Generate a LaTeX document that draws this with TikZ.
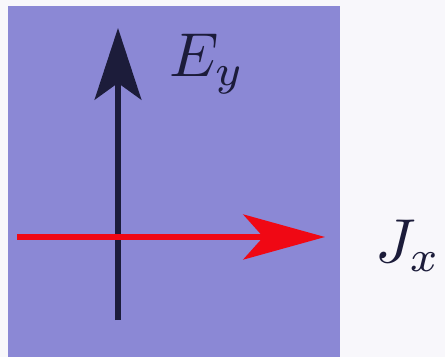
\documentclass[tikz,border=0pt]{standalone}
\usetikzlibrary{arrows.meta}
\definecolor{slab}{RGB}{139,136,213}
\definecolor{paper}{RGB}{248,247,251}
\definecolor{ink}{RGB}{28,28,58}
\definecolor{jred}{RGB}{240,8,20}
\begin{document}
\begin{tikzpicture}[x = 0.03cm, y = -0.03cm,
  lbl/.style = {text = ink, scale = 5.3, transform shape}]

%background and slab
        \fill[paper] (0,0) rectangle (445,357);
        \useasboundingbox (0,0) rectangle (445,357);
        \fill[slab] (8,6) rectangle (340,357);

%mark arrow ends
        \coordinate (Ebot) at (118,320);
        \coordinate (Etop) at (118,28);
        \coordinate (Jleft) at (17,237);
        \coordinate (Jright) at (325,237);

        \draw[ink, line width = 4.4pt, -{Stealth[length = 2.15cm, width = 1.4cm, inset = 0.5cm]}] (Ebot) -- (Etop);
        \draw[jred, line width = 4.8pt, -{Stealth[length = 2.45cm, width = 1.35cm, inset = 0.6cm]}] (Jleft) -- (Jright);

        %label fields
        \node[lbl] (Ey) at (207,64) {$E_y$};
        \node[lbl] (Jx) at (408,246) {$J_x$};
\end{tikzpicture}
\end{document}
